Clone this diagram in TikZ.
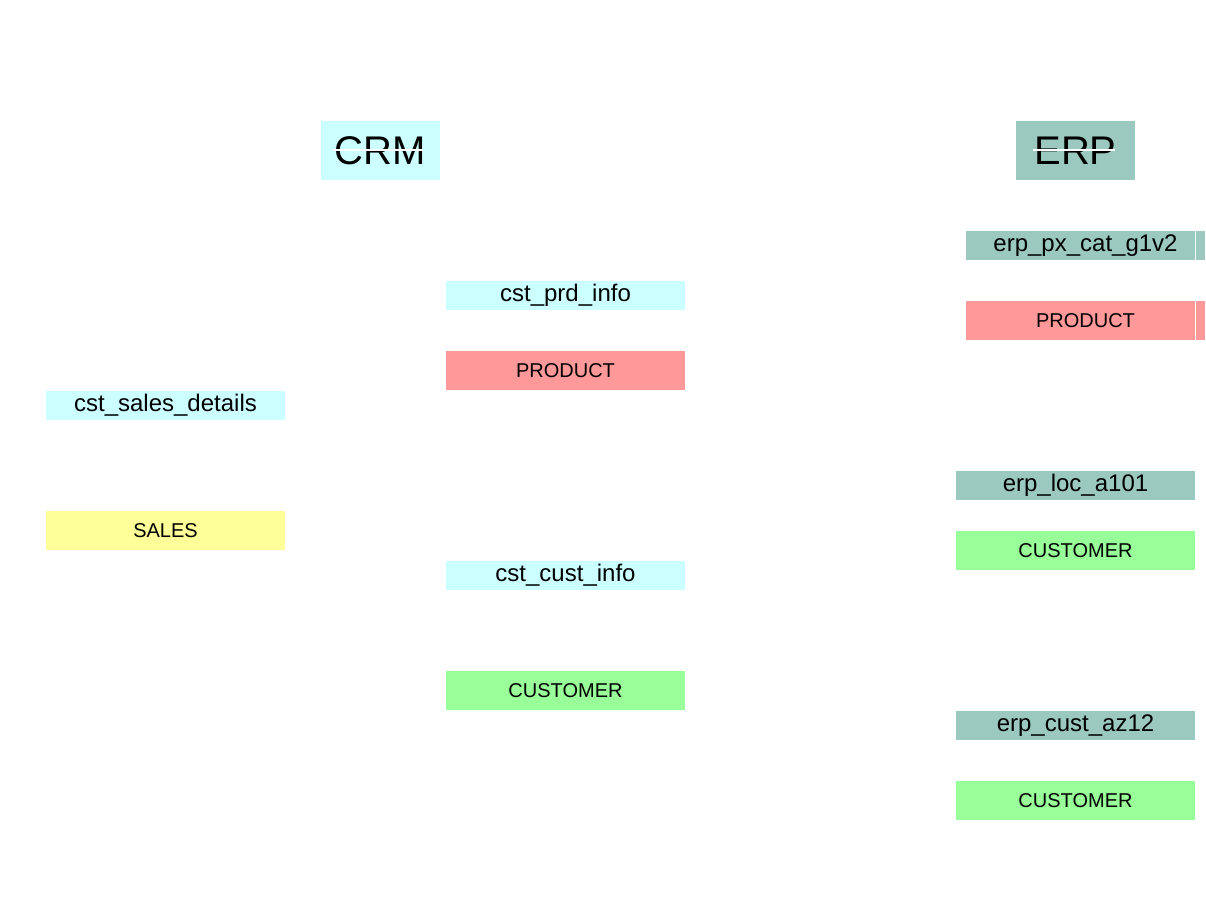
\documentclass[tikz,border=0pt]{standalone}
\usepackage{fontspec}
\setmainfont{Liberation Sans}
\definecolor{crmc}{RGB}{204,255,255}
\definecolor{erpc}{RGB}{155,201,192}
\definecolor{prodc}{RGB}{255,153,153}
\definecolor{custc}{RGB}{153,255,153}
\definecolor{salesc}{RGB}{255,255,153}
\tikzset{
  box/.style={inner sep=0pt, outer sep=0pt, minimum width=239pt, text=black},
  tbl/.style={box, minimum height=29pt, font=\fontsize{24}{26}\selectfont},
  cat/.style={box, minimum height=39pt, font=\fontsize{20}{22}\selectfont},
  hdr/.style={inner sep=0pt, outer sep=0pt, minimum width=119pt, minimum height=59pt, font=\fontsize{40}{42}\selectfont},
  gap/.style={draw=white, line width=1.2pt}
}
\begin{document}
\begin{tikzpicture}[x=1pt,y=-1pt]
\useasboundingbox (0,0) rectangle (1206,912);
% headers
\node[hdr, fill=crmc] (crm) at (380.5,150.5) {CRM};
\node[hdr, fill=erpc] (erp) at (1075.5,150.5) {ERP};
\coordinate (crmL) at (333,150); \coordinate (crmR) at (423,150);
\coordinate (erpL) at (1033,150); \coordinate (erpR) at (1115,150);
\draw[gap] (crmL) -- (crmR);
\draw[gap] (erpL) -- (erpR);
% CRM left
\node[tbl, fill=crmc] (sd) at (165.5,405.5) {cst\_sales\_details};
\node[cat, fill=salesc] (sales) at (165.5,530.5) {SALES};
% CRM middle
\node[tbl, fill=crmc] (prd) at (565.5,295.5) {cst\_prd\_info};
\node[cat, fill=prodc] (prod1) at (565.5,370.5) {PRODUCT};
\node[tbl, fill=crmc] (cust) at (565.5,575.5) {cst\_cust\_info};
\node[cat, fill=custc] (cust1) at (565.5,690.5) {CUSTOMER};
% ERP
\node[tbl, fill=erpc] (pxcat) at (1085.5,245.5) {erp\_px\_cat\_g1v2};
\node[cat, fill=prodc] (prod2) at (1085.5,320.5) {PRODUCT};
\node[tbl, fill=erpc] (loc) at (1075.5,485.5) {erp\_loc\_a101};
\node[cat, fill=custc] (cust2) at (1075.5,550.5) {CUSTOMER};
\node[tbl, fill=erpc] (az) at (1075.5,725.5) {erp\_cust\_az12};
\node[cat, fill=custc] (cust3) at (1075.5,800.5) {CUSTOMER};
% thin white seams on right boxes
\coordinate (s1t) at (1195.5,231); \coordinate (s1b) at (1195.5,260);
\coordinate (s2t) at (1195.5,301); \coordinate (s2b) at (1195.5,340);
\draw[gap] (s1t) -- (s1b);
\draw[gap] (s2t) -- (s2b);
\end{tikzpicture}
\end{document}
